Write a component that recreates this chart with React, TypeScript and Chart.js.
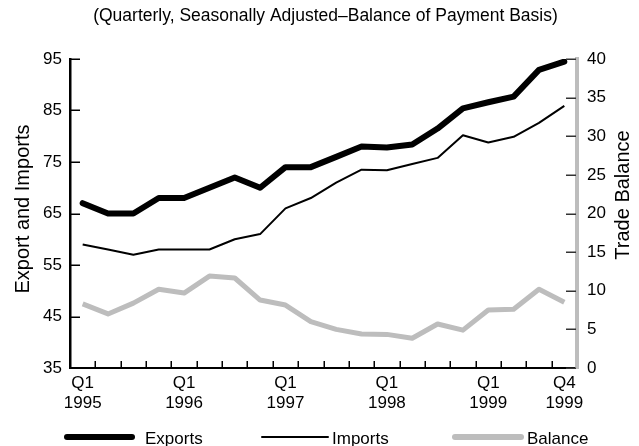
import React, { useEffect, useRef } from "react";
import { Chart, registerables } from "chart.js";

Chart.register(...registerables);

// ---------- data ----------
const quarters = [
  "1995 Q1", "1995 Q2", "1995 Q3", "1995 Q4",
  "1996 Q1", "1996 Q2", "1996 Q3", "1996 Q4",
  "1997 Q1", "1997 Q2", "1997 Q3", "1997 Q4",
  "1998 Q1", "1998 Q2", "1998 Q3", "1998 Q4",
  "1999 Q1", "1999 Q2", "1999 Q3", "1999 Q4",
];

const xTickLabels: (string | string[])[] = [
  ["Q1", "1995"], "", "", "",
  ["Q1", "1996"], "", "", "",
  ["Q1", "1997"], "", "", "",
  ["Q1", "1998"], "", "", "",
  ["Q1", "1999"], "", "", ["Q4", "1999"],
];

const exportsValues = [67, 65, 65, 68, 68, 70, 72, 70, 74, 74, 76, 78, 77.8, 78.4, 81.5, 85.4, 86.6, 87.7, 92.9, 94.5];
const importsValues = [59, 58, 57, 58, 58, 58, 60, 61, 66, 68, 71, 73.5, 73.4, 74.6, 75.8, 80.2, 78.8, 79.9, 82.6, 85.9];
const balanceValues = [8.3, 7.0, 8.4, 10.2, 9.7, 11.9, 11.65, 8.8, 8.15, 6.0, 5.0, 4.4, 4.35, 3.85, 5.7, 4.9, 7.5, 7.6, 10.2, 8.5];

const seriesLabels = ["Exports", "Imports", "Balance"];

const leftAxisMin = 35;
const leftAxisMax = 95;
const leftAxisStep = 10;
const rightAxisMin = 0;
const rightAxisMax = 40;
const rightAxisStep = 5;

const titleText = "(Quarterly, Seasonally Adjusted\u2013Balance of Payment Basis)";
const leftAxisTitle = "Export and Imports";
const rightAxisTitle = "Trade Balance";

// ---------- styles ----------
const FONT = '"Liberation Sans", Arial, sans-serif';
const GRAY = "#bdbdbd";
const W = 639;
const H = 446;

const decorations = {
  id: "decorations",
  afterDraw(chart: any) {
    const ctx: CanvasRenderingContext2D = chart.ctx;
    const { left, right, bottom } = chart.chartArea;
    const xs = chart.scales.x;
    const ys = chart.scales.y;
    const y1 = chart.scales.y1;
    const line = (x1: number, y1p: number, x2: number, y2p: number) => {
      ctx.beginPath();
      ctx.moveTo(x1, y1p);
      ctx.lineTo(x2, y2p);
      ctx.stroke();
    };
    ctx.save();
    // inward tick marks
    ctx.lineCap = "butt";
    ctx.strokeStyle = "#000";
    ctx.lineWidth = 1.5;
    ys.ticks.forEach((t: any) => {
      const py = Math.round(ys.getPixelForValue(t.value)) + 0.25;
      line(left, py, left + 10, py);
    });
    ctx.strokeStyle = "#333";
    y1.ticks.forEach((t: any) => {
      const py = Math.round(y1.getPixelForValue(t.value)) + 0.25;
      line(right - 11, py, right - 1, py);
    });
    ctx.strokeStyle = "#000";
    for (let i = 1; i < quarters.length; i++) {
      const px = Math.round((xs.getPixelForValue(i - 1) + xs.getPixelForValue(i)) / 2) + 0.25;
      line(px, bottom - 7, px, bottom);
    }

    // title
    ctx.fillStyle = "#000";
    ctx.textAlign = "center";
    ctx.textBaseline = "alphabetic";
    ctx.font = `17.5px ${FONT}`;
    ctx.fillText(titleText, 325.5, 21);

    // axis titles
    ctx.textBaseline = "middle";
    ctx.font = `20px ${FONT}`;
    ctx.save();
    ctx.translate(23, 209);
    ctx.rotate(-Math.PI / 2);
    ctx.fillText(leftAxisTitle, 0, 0);
    ctx.restore();
    ctx.save();
    ctx.translate(623, 195);
    ctx.rotate(-Math.PI / 2);
    ctx.fillText(rightAxisTitle, 0, 0);
    ctx.restore();

    // legend
    const items = [
      { x1: 67, x2: 132, tx: 145, w: 6, c: "#000" },
      { x1: 262, x2: 328, tx: 332, w: 2, c: "#000" },
      { x1: 455, x2: 521, tx: 527, w: 6, c: GRAY },
    ];
    const ly = 437;
    ctx.font = `17px ${FONT}`;
    ctx.textAlign = "left";
    ctx.textBaseline = "alphabetic";
    items.forEach((it, i) => {
      ctx.strokeStyle = it.c;
      ctx.lineWidth = it.w;
      ctx.lineCap = "round";
      line(it.x1, ly, it.x2, ly);
      ctx.fillStyle = "#000";
      ctx.fillText(chart.data.datasets[i].label, it.tx, 444);
    });
    ctx.restore();
  },
};

export default function App() {
  const ref = useRef<HTMLCanvasElement | null>(null);

  useEffect(() => {
    document.body.style.margin = "0";
    const canvas = ref.current;
    if (!canvas) return;
    const chart = new Chart(canvas, {
      type: "line",
      data: {
        labels: quarters,
        datasets: [
          {
            label: seriesLabels[0],
            data: exportsValues,
            borderColor: "#000",
            backgroundColor: "#000",
            borderWidth: 6,
            pointRadius: 0,
            borderJoinStyle: "round",
            borderCapStyle: "round",
            tension: 0,
            yAxisID: "y",
          },
          {
            label: seriesLabels[1],
            data: importsValues,
            borderColor: "#000",
            backgroundColor: "#000",
            borderWidth: 2,
            pointRadius: 0,
            borderJoinStyle: "round",
            tension: 0,
            yAxisID: "y",
          },
          {
            label: seriesLabels[2],
            data: balanceValues,
            borderColor: GRAY,
            backgroundColor: GRAY,
            borderWidth: 5,
            pointRadius: 0,
            borderJoinStyle: "round",
            tension: 0,
            yAxisID: "y1",
          },
        ],
      },
      options: {
        responsive: false,
        animation: false,
        layout: { padding: { top: 59, bottom: 0, left: 0, right: 0 } },
        plugins: {
          legend: { display: false },
          title: { display: false },
          tooltip: { enabled: false },
        },
        scales: {
          x: {
            type: "category",
            offset: true,
            grid: { display: false, drawTicks: false },
            border: { display: true, color: "#000", width: 2 },
            ticks: {
              autoSkip: false,
              maxRotation: 0,
              minRotation: 0,
              padding: 6,
              color: "#000",
              font: { family: FONT, size: 17, lineHeight: 1.15 },
              callback: (_v: any, i: number) => xTickLabels[i],
            },
            afterFit: (s: any) => {
              s.height = H - 368;
            },
          },
          y: {
            position: "left",
            min: leftAxisMin,
            max: leftAxisMax,
            grid: { display: false, drawTicks: false },
            border: { display: true, color: "#000", width: 2.5 },
            ticks: {
              stepSize: leftAxisStep,
              padding: 8,
              color: "#000",
              font: { family: FONT, size: 17 },
            },
            afterFit: (s: any) => {
              s.width = 70;
            },
          },
          y1: {
            position: "right",
            min: rightAxisMin,
            max: rightAxisMax,
            grid: { display: false, drawTicks: false },
            border: { display: true, color: GRAY, width: 4 },
            ticks: {
              stepSize: rightAxisStep,
              padding: 10,
              color: "#000",
              font: { family: FONT, size: 17 },
            },
            afterFit: (s: any) => {
              s.width = W - 577;
            },
          },
        },
      },
      plugins: [decorations],
    } as any);
    return () => chart.destroy();
  }, []);

  return (
    <div style={{ position: "fixed", left: 0, top: 0, width: W, height: H, background: "#fff" }}>
      <canvas ref={ref} width={W} height={H} style={{ width: W, height: H, display: "block" }} />
    </div>
  );
}
